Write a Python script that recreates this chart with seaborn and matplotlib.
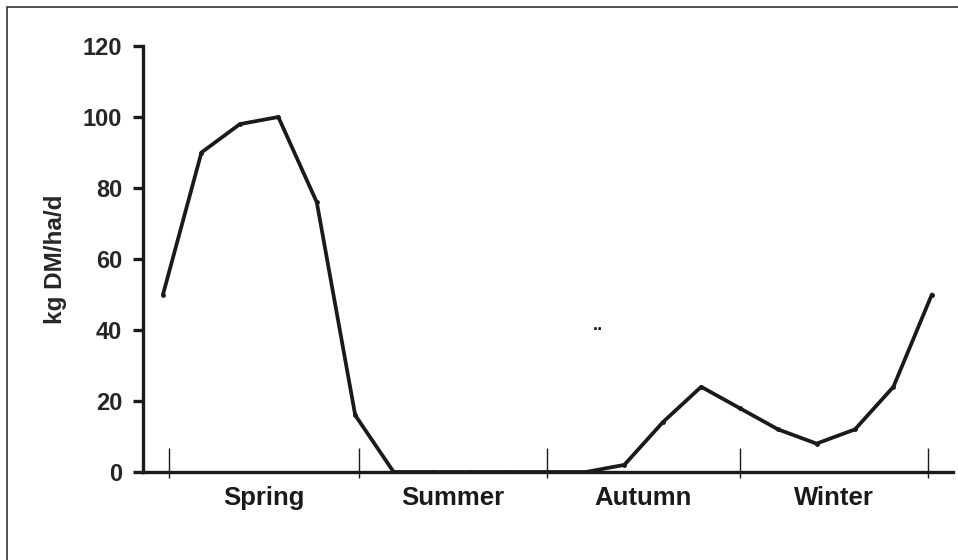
import matplotlib
matplotlib.use('Agg')
import matplotlib.pyplot as plt
import numpy as np
import pandas as pd
import seaborn as sns
from matplotlib.patches import Rectangle

# crescimento de pastagem ao longo do ano
growth = [50, 90, 98, 100, 76, 16, 0, 0, 0, 0, 0, 0, 2, 14, 24, 18, 12, 8, 12, 24, 50]
seasons = ['Spring', 'Summer', 'Autumn', 'Winter']
season_edges = [0.15, 5.1, 10, 15, 19.9]
yticks = [0, 20, 40, 60, 80, 100, 120]

df = pd.DataFrame({'idx': np.arange(len(growth)), 'growth': growth})

sns.set_theme(style='ticks')
plt.rcParams['font.family'] = ['Liberation Sans', 'DejaVu Sans']
plt.rcParams['font.weight'] = 'bold'

fig = plt.figure(figsize=(9.58, 5.6), dpi=100)
ax = fig.add_axes([143 / 958, 1 - 472 / 560, (953 - 143) / 958, (472 - 46) / 560])

sns.lineplot(data=df, x='idx', y='growth', ax=ax, color='#1a1a1a', linewidth=2.7,
             marker='o', markersize=3.5, markeredgewidth=0)

ax.set_xlim(-0.52, 20.55)
ax.set_ylim(0, 120)
ax.set_yticks(yticks)
ax.set_yticklabels([str(v) for v in yticks], fontsize=17, fontweight='bold')
ax.set_ylabel('kg DM/ha/d', fontsize=17.5, fontweight='bold', labelpad=11)
ax.set_xlabel('')

# marcas das estações
ax.set_xticks(season_edges)
ax.set_xticklabels([])
ax.set_xticks(season_edges, minor=True)
ax.xaxis.remove_overlapping_locs = False
ax.tick_params(axis='x', which='major', direction='in', length=17, width=1, color='#1a1a1a')
ax.tick_params(axis='x', which='minor', direction='out', length=4, width=1, color='#1a1a1a')
ax.tick_params(axis='y', direction='out', length=7, width=2.4, color='#1a1a1a', pad=8)

for s, (a, b) in zip(seasons, zip(season_edges[:-1], season_edges[1:])):
    ax.text((a + b) / 2, -0.06, s, transform=ax.get_xaxis_transform(),
            ha='center', va='center', fontsize=18.5, fontweight='bold', color='#1a1a1a')

ax.text(11.3, 39, '..', ha='center', va='bottom', fontsize=13, fontweight='bold', color='#1a1a1a')

for side in ['top', 'right']:
    ax.spines[side].set_visible(False)
for side in ['left', 'bottom']:
    ax.spines[side].set_linewidth(2.4)
    ax.spines[side].set_color('#1a1a1a')

fig.patches.append(Rectangle((7 / 958, -0.1), 1.1, 1 - 7 / 560 + 0.1, transform=fig.transFigure,
                             fill=False, edgecolor='#333333', linewidth=1.2))

fig.savefig('out.png', dpi=100)
